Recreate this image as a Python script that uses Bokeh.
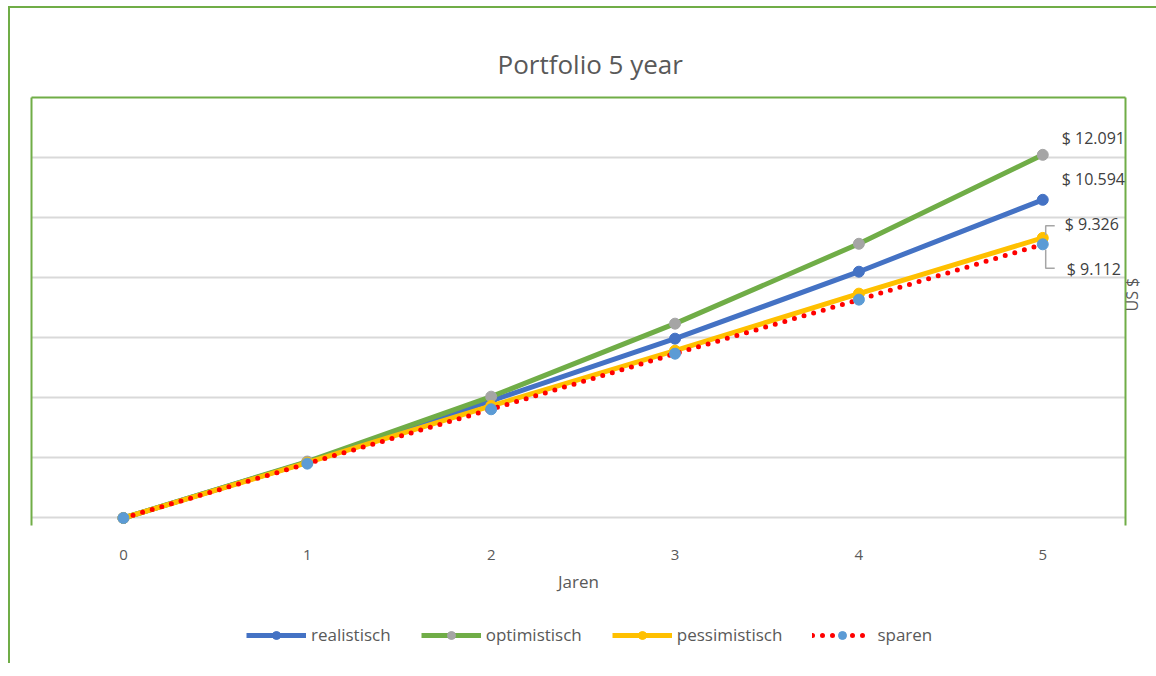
import math
from bokeh.plotting import figure
from bokeh.layouts import column
from bokeh.models import (ColumnDataSource, FixedTicker, Legend, LegendItem, LabelSet, Range1d,
                          LinearAxis)
from bokeh.core.properties import value
from bokeh.embed import file_html
from bokeh.resources import INLINE

# ---- data ----
years = [0, 1, 2, 3, 4, 5]
realistisch = [0, 1860, 3900, 5970, 8200, 10594]
optimistisch = [0, 1880, 4040, 6470, 9130, 12091]
pessimistisch = [0, 1840, 3730, 5570, 7470, 9326]
sparen = [0, 1810, 3620, 5470, 7270, 9112]
series_names = ["realistisch", "optimistisch", "pessimistisch", "sparen"]
end_labels = ["$ 10.594", "$ 12.091", "$ 9.326", "$ 9.112"]
y_ticks = [0, 2000, 4000, 6000, 8000, 10000, 12000]

GREEN = "#70ad47"
BLUE = "#4472c4"
GREY = "#a5a5a5"
YELLOW = "#ffc000"
RED = "#ff0000"
LBLUE = "#5b9bd5"
TXT = "#595959"
FONT = "Open Sans"
W = 1146

p = figure(width=W, height=587, output_backend="svg", toolbar_location=None,
           x_range=Range1d(-0.5, 5.45), y_range=Range1d(-250, 14000),
           y_axis_location="right", title="Portfolio 5 year",
           min_border_left=21, min_border_right=0, min_border_top=89, min_border_bottom=20)

p.title.align = "left"
p.title.text_font = FONT
p.title.text_font_size = "26px"
p.title.text_font_style = "normal"
p.title.text_color = TXT
p.title.vertical_align = "top"
p.title.standoff = 28
p.title.offset = 466

p.outline_line_color = None
p.background_fill_color = "white"
p.border_fill_color = "white"

p.xgrid.visible = False
p.ygrid.grid_line_color = "#d9d9d9"
p.ygrid.grid_line_width = 2

xa = p.xaxis[0]
xa.ticker = FixedTicker(ticks=years)
xa.axis_line_color = None
xa.major_tick_line_color = None
xa.minor_tick_line_color = None
xa.major_label_text_font = FONT
xa.major_label_text_font_size = "15px"
xa.major_label_text_color = TXT
xa.major_label_standoff = 18
xa.axis_label = "Jaren"
xa.axis_label_text_font = FONT
xa.axis_label_text_font_size = "17px"
xa.axis_label_text_color = TXT
xa.axis_label_text_font_style = "normal"
xa.axis_label_standoff = 7

ya = p.yaxis[0]
ya.ticker = FixedTicker(ticks=y_ticks)
ya.axis_line_color = GREEN
ya.axis_line_width = 2
ya.major_tick_line_color = None
ya.minor_tick_line_color = None
ya.major_label_overrides = {t: "" for t in y_ticks}
ya.major_label_standoff = 0
ya.axis_label = "US $"
ya.axis_label_text_font = FONT
ya.axis_label_text_font_size = "16px"
ya.axis_label_text_color = TXT
ya.axis_label_text_font_style = "normal"
ya.axis_label_standoff = 0
try:
    ya.axis_label_orientation = math.pi / 2
except Exception:
    pass

# green frame edges (left / top) as bare axes
for side in ("left", "above"):
    ax = LinearAxis(ticker=FixedTicker(ticks=[]), axis_line_color=GREEN, axis_line_width=2,
                    major_tick_line_color=None, minor_tick_line_color=None,
                    major_label_standoff=0, axis_label_standoff=0)
    p.add_layout(ax, side)

src = ColumnDataSource(dict(x=years, r=realistisch, o=optimistisch, pe=pessimistisch, s=sparen))

p.line("x", "r", source=src, line_color=BLUE, line_width=5)
p.scatter("x", "r", source=src, size=11, fill_color=BLUE, line_color=BLUE)
p.line("x", "o", source=src, line_color=GREEN, line_width=5)
p.scatter("x", "o", source=src, size=11, fill_color=GREY, line_color=GREY)
p.line("x", "pe", source=src, line_color=YELLOW, line_width=5)
p.scatter("x", "pe", source=src, size=11, fill_color=YELLOW, line_color=YELLOW)
p.line("x", "s", source=src, line_color=RED, line_width=5, line_dash="0 10", line_cap="round")
p.scatter("x", "s", source=src, size=11, fill_color=LBLUE, line_color=LBLUE)

# end labels
last = [realistisch[-1], optimistisch[-1], pessimistisch[-1], sparen[-1]]
lab_src = ColumnDataSource(dict(x=[years[-1]] * 4, y=last, text=end_labels,
                                xo=[19, 19, 22, 24], yo=[21, 17, 14, -25]))
labels = LabelSet(x="x", y="y", text="text", x_offset="xo", y_offset="yo", source=lab_src,
                  text_font=value(FONT), text_font_size=value("16px"), text_color="#404040",
                  text_baseline="middle")
p.add_layout(labels)

# leader lines for the two lowest labels
x5 = years[-1]
dx1, dx2 = 0.016, 0.065
p.multi_line(xs=[[x5 + dx2, x5 + dx1, x5 + dx1], [x5 + dx1, x5 + dx1, x5 + dx2]],
             ys=[[pessimistisch[-1] + 400, pessimistisch[-1] + 400, pessimistisch[-1] + 100],
                 [sparen[-1] - 170, sparen[-1] - 800, sparen[-1] - 800]],
             line_color="#a6a6a6", line_width=1.5)

# ---- legend strip (same data, viewed out of range so only the legend shows) ----
lf = figure(width=W, height=68, output_backend="svg", toolbar_location=None,
            x_range=Range1d(100, 101), y_range=Range1d(100000, 100001),
            min_border_left=0, min_border_right=0, min_border_top=0, min_border_bottom=0)
lf.axis.visible = False
lf.grid.visible = False
lf.outline_line_color = None
k1 = lf.line("x", "r", source=src, line_color=BLUE, line_width=5)
s1 = lf.scatter("x", "r", source=src, size=11, fill_color=BLUE, line_color=BLUE)
k2 = lf.line("x", "o", source=src, line_color=GREEN, line_width=5)
s2 = lf.scatter("x", "o", source=src, size=11, fill_color=GREY, line_color=GREY)
k3 = lf.line("x", "pe", source=src, line_color=YELLOW, line_width=5)
s3 = lf.scatter("x", "pe", source=src, size=11, fill_color=YELLOW, line_color=YELLOW)
k4 = lf.line("x", "s", source=src, line_color=RED, line_width=5, line_dash="0 10", line_cap="round")
s4 = lf.scatter("x", "s", source=src, size=11, fill_color=LBLUE, line_color=LBLUE)

legend = Legend(items=[
    LegendItem(label=series_names[0], renderers=[k1, s1]),
    LegendItem(label=series_names[1], renderers=[k2, s2]),
    LegendItem(label=series_names[2], renderers=[k3, s3]),
    LegendItem(label=series_names[3], renderers=[k4, s4]),
], orientation="horizontal", location=(215, 17))
legend.glyph_width = 60
legend.glyph_height = 20
legend.label_standoff = 5
legend.spacing = 30
legend.border_line_color = None
legend.background_fill_alpha = 0
legend.label_text_font = FONT
legend.label_text_font_size = "17px"
legend.label_text_color = TXT
legend.margin = 0
legend.padding = 4
lf.add_layout(legend)

layout = column(p, lf, spacing=0,
                styles={"border-left": "2px solid " + GREEN, "border-top": "2px solid " + GREEN,
                        "margin-left": "8px", "margin-top": "6px"})

open("out.html", "w").write(file_html(layout, INLINE))
